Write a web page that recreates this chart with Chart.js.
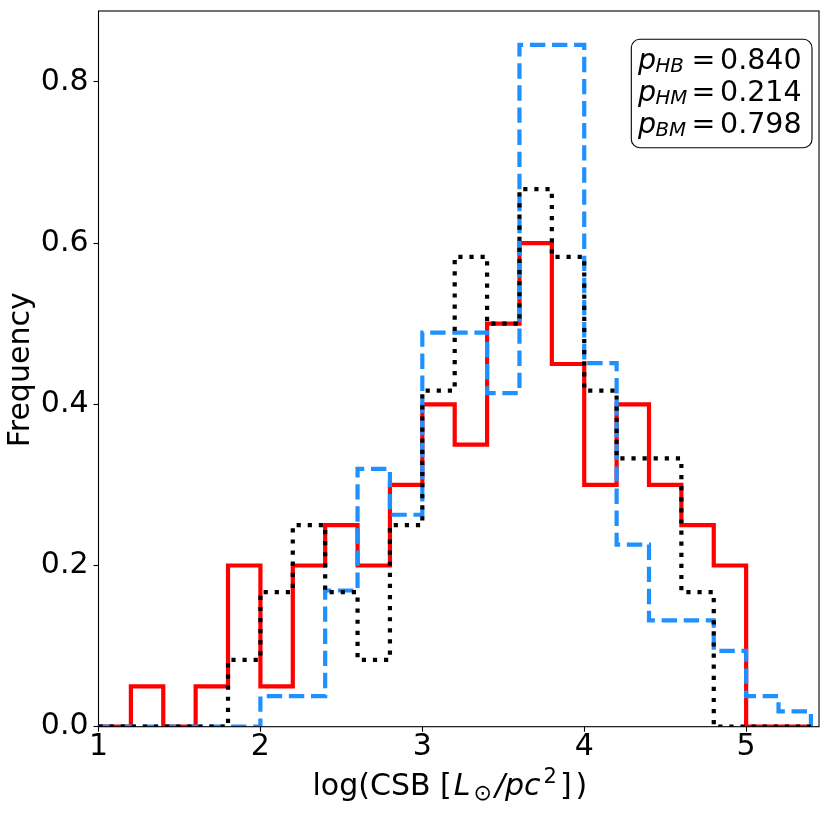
<!DOCTYPE html>
<html>
<head>
<meta charset="utf-8">
<script src="https://cdn.jsdelivr.net/npm/chart.js@4.4.1/dist/chart.umd.min.js"></script>
<style>
  html, body { margin: 0; padding: 0; background: #fff; }
  #histChart { display: block; }
</style>
</head>
<body>
<canvas id="histChart" width="831" height="814"></canvas>
<script>
// bin edges (log CSB) and frequencies per bin
const binEdges = [1.0, 1.2, 1.4, 1.6, 1.8, 2.0, 2.2, 2.4, 2.6, 2.8, 3.0, 3.2,
                  3.4, 3.6, 3.8, 4.0, 4.2, 4.4, 4.6, 4.8, 5.0, 5.2, 5.4];

const redFreq = [0, 0.05, 0, 0.05, 0.2, 0.05, 0.2, 0.25, 0.2, 0.3, 0.4, 0.35,
                 0.5, 0.6, 0.45, 0.3, 0.4, 0.3, 0.25, 0.2, 0, 0];

const blackFreq = [0, 0, 0, 0, 0.083, 0.167, 0.25, 0.167, 0.083, 0.25, 0.417, 0.583,
                   0.5, 0.667, 0.583, 0.417, 0.333, 0.333, 0.167, 0, 0, 0];

const blueFreq = [0, 0, 0, 0, 0, 0.038, 0.038, 0.169, 0.32, 0.263, 0.489, 0.489,
                  0.414, 0.846, 0.846, 0.451, 0.226, 0.132, 0.132, 0.094, 0.038, 0.019];

const xTicks = [1, 2, 3, 4, 5];
const yTicks = [0.0, 0.2, 0.4, 0.6, 0.8];

const pLabels = ['HB', 'HM', 'BM'];
const pValues = ['0.840', '0.214', '0.798'];

const FONT = "'DejaVu Sans'";
Chart.defaults.font.family = FONT;
Chart.defaults.color = '#000';

// outline of a step histogram: hold each value over its bin, drop to 0 at the end
function stepPoints(freq) {
  const pts = [{ x: binEdges[0], y: 0 }];
  freq.forEach((v, i) => pts.push({ x: binEdges[i], y: v }));
  pts.push({ x: binEdges[binEdges.length - 1], y: 0 });
  return pts;
}

function histDataset(freq, color, dash, order) {
  return {
    data: stepPoints(freq),
    borderColor: color,
    borderWidth: 4.2,
    borderDash: dash,
    borderCapStyle: 'butt',
    borderJoinStyle: 'miter',
    stepped: true,
    pointRadius: 0,
    fill: false,
    clip: 0,
    order: order
  };
}

// text pieces in a row, each with its own font, baseline shift and trailing gap
function drawPieces(ctx, pieces, x, y) {
  let cx = x;
  pieces.forEach(p => {
    ctx.font = p.font;
    ctx.fillText(p.t, cx, y + (p.dy || 0));
    cx += ctx.measureText(p.t).width + (p.gap || 0);
  });
}

const decorPlugin = {
  id: 'decor',
  afterDraw(chart) {
    const { ctx, chartArea: a } = chart;
    ctx.save();

    // frame
    ctx.strokeStyle = '#000';
    ctx.lineWidth = 1.1;
    ctx.strokeRect(a.left, a.top, a.right - a.left, a.bottom - a.top);

    ctx.fillStyle = '#000';
    ctx.textBaseline = 'alphabetic';

    // y title
    ctx.save();
    ctx.translate(29, (a.top + a.bottom) / 2 + 1);
    ctx.rotate(-Math.PI / 2);
    ctx.textAlign = 'center';
    ctx.font = '30px ' + FONT;
    ctx.fillText('Frequency', 0, 0);
    ctx.restore();

    // x title with math parts
    ctx.textAlign = 'left';
    drawPieces(ctx, [
      { t: 'log(CSB [', font: '30px ' + FONT, gap: 2 },
      { t: 'L', font: 'italic 30px ' + FONT, gap: 3 },
      { t: '\u2299', font: '22px ' + FONT, dy: 4.5, gap: 3 },
      { t: '/', font: 'italic 30px ' + FONT, gap: 0 },
      { t: 'pc', font: 'italic 30px ' + FONT, gap: 3 },
      { t: '2', font: '21px ' + FONT, dy: -12, gap: 3 },
      { t: ']', font: '30px ' + FONT, gap: 4 },
      { t: ')', font: '30px ' + FONT }
    ], a.left + 214, 795);

    // p-value box
    const bx = 631.3, by = 39.3, bw = 180.7, bh = 108.4;
    ctx.beginPath();
    ctx.roundRect(bx, by, bw, bh, 8.5);
    ctx.fillStyle = '#fff';
    ctx.fill();
    ctx.strokeStyle = '#000';
    ctx.lineWidth = 1.1;
    ctx.stroke();

    ctx.fillStyle = '#000';
    const baselines = [69.3, 101.3, 133];
    pLabels.forEach((lab, i) => {
      const y = baselines[i];
      ctx.textAlign = 'left';
      ctx.font = 'italic 28.5px ' + FONT;
      ctx.fillText('p', 638, y);
      ctx.font = 'italic 19.8px ' + FONT;
      ctx.fillText(lab, 655.5, y + 3);
      ctx.textAlign = 'center';
      ctx.font = '28.5px ' + FONT;
      ctx.fillText('=', 703.5, y);
      ctx.textAlign = 'left';
      ctx.fillText(pValues[i], 720, y);
    });

    ctx.restore();
  }
};

new Chart(document.getElementById('histChart').getContext('2d'), {
  type: 'line',
  data: {
    datasets: [
      histDataset(blackFreq, '#000000', [4.2, 6.9], 1),
      histDataset(blueFreq, '#1e90ff', [15.4, 6.7], 2),
      histDataset(redFreq, '#ff0000', [], 3)
    ]
  },
  options: {
    responsive: false,
    animation: false,
    events: [],
    layout: { padding: { top: 11, right: 12, left: 0, bottom: 0 } },
    plugins: { legend: { display: false }, tooltip: { enabled: false } },
    scales: {
      x: {
        type: 'linear',
        min: 1,
        max: 5.45,
        afterBuildTicks: s => { s.ticks = xTicks.map(v => ({ value: v })); },
        afterFit: s => { s.height = 87.3; s.paddingLeft = 0; s.paddingRight = 0; },
        ticks: {
          autoSkip: false,
          maxRotation: 0,
          padding: 1,
          font: { size: 30, lineHeight: 1 },
          callback: v => String(v)
        },
        grid: { drawOnChartArea: false, drawTicks: true, tickLength: 5, tickWidth: 1.1, tickColor: '#000' },
        border: { display: false }
      },
      y: {
        type: 'linear',
        min: 0,
        max: 0.888,
        afterBuildTicks: s => { s.ticks = yTicks.map(v => ({ value: v })); },
        afterFit: s => { s.width = 98.5; s.paddingTop = 0; s.paddingBottom = 0; },
        ticks: {
          padding: 5,
          font: { size: 30, lineHeight: 1 },
          callback: v => v.toFixed(1)
        },
        grid: { drawOnChartArea: false, drawTicks: true, tickLength: 5, tickWidth: 1.1, tickColor: '#000' },
        border: { display: false }
      }
    }
  },
  plugins: [decorPlugin]
});
</script>
</body>
</html>
